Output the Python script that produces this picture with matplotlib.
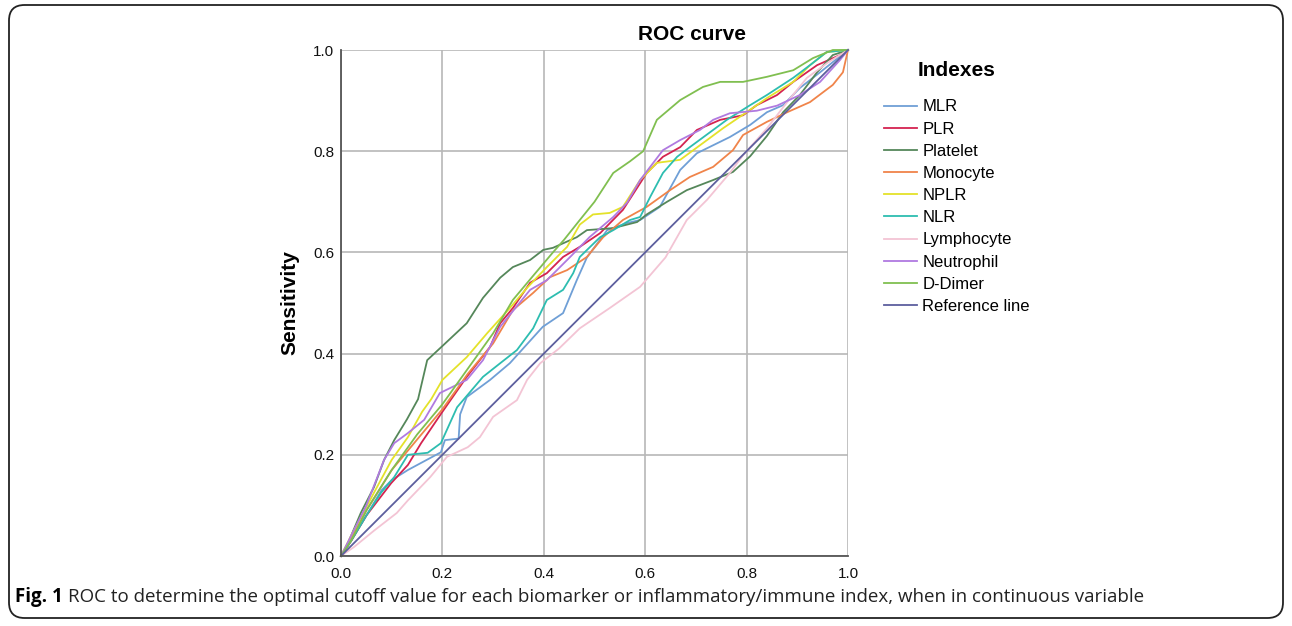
import matplotlib
matplotlib.use("Agg")
import matplotlib.pyplot as plt
from matplotlib.patches import FancyBboxPatch

plt.rcParams['font.family'] = ['Liberation Sans', 'DejaVu Sans']

# ---------------- data ----------------
labels = ["MLR", "PLR", "Platelet", "Monocyte", "NPLR", "NLR",
          "Lymphocyte", "Neutrophil", "D-Dimer", "Reference line"]
colors = ["#6f9fd6", "#d42350", "#55875a", "#f0844a", "#e4e22a", "#2dbdb0",
          "#f3c4d4", "#b07ae0", "#80bf50", "#5d5f9e"]

mlr_x = [0, 0.02, 0.05, 0.08, 0.10, 0.132, 0.197, 0.205, 0.232, 0.235, 0.248, 0.294, 0.333, 0.398, 0.438, 0.465, 0.485, 0.525, 0.564, 0.59, 0.629, 0.669, 0.702, 0.767, 0.807, 0.84, 0.872, 0.905, 0.945, 1.0]
mlr_y = [0, 0.03, 0.08, 0.13, 0.15, 0.17, 0.205, 0.229, 0.232, 0.28, 0.314, 0.348, 0.381, 0.453, 0.48, 0.545, 0.59, 0.644, 0.658, 0.664, 0.69, 0.763, 0.796, 0.828, 0.852, 0.877, 0.891, 0.925, 0.956, 1.0]

plr_x = [0, 0.02, 0.05, 0.099, 0.132, 0.158, 0.2, 0.248, 0.294, 0.314, 0.339, 0.373, 0.406, 0.438, 0.471, 0.511, 0.556, 0.603, 0.635, 0.669, 0.702, 0.748, 0.793, 0.82, 0.86, 0.892, 0.939, 0.984, 1.0]
plr_y = [0, 0.03, 0.08, 0.144, 0.18, 0.223, 0.285, 0.354, 0.413, 0.46, 0.49, 0.54, 0.559, 0.591, 0.611, 0.638, 0.684, 0.757, 0.789, 0.808, 0.842, 0.862, 0.871, 0.891, 0.911, 0.937, 0.97, 0.99, 1.0]

plt_x = [0, 0.014, 0.039, 0.065, 0.085, 0.105, 0.13, 0.152, 0.17, 0.2, 0.248, 0.28, 0.314, 0.339, 0.373, 0.399, 0.418, 0.465, 0.485, 0.537, 0.584, 0.603, 0.643, 0.682, 0.734, 0.773, 0.807, 0.84, 0.872, 0.905, 0.939, 0.97, 1.0]
plt_y = [0, 0.026, 0.085, 0.136, 0.19, 0.229, 0.27, 0.31, 0.387, 0.415, 0.46, 0.51, 0.55, 0.571, 0.585, 0.605, 0.609, 0.63, 0.644, 0.648, 0.66, 0.675, 0.70, 0.723, 0.743, 0.759, 0.79, 0.83, 0.877, 0.911, 0.956, 0.99, 1.0]

mono_x = [0, 0.02, 0.05, 0.10, 0.15, 0.20, 0.25, 0.30, 0.339, 0.379, 0.412, 0.446, 0.485, 0.517, 0.556, 0.603, 0.649, 0.688, 0.734, 0.773, 0.793, 0.84, 0.88, 0.925, 0.97, 0.99, 1.0]
mono_y = [0, 0.035, 0.09, 0.17, 0.23, 0.29, 0.36, 0.42, 0.486, 0.52, 0.551, 0.565, 0.591, 0.63, 0.664, 0.69, 0.723, 0.749, 0.769, 0.802, 0.832, 0.858, 0.877, 0.897, 0.931, 0.956, 1.0]

nplr_x = [0, 0.02, 0.065, 0.10, 0.132, 0.16, 0.178, 0.2, 0.248, 0.288, 0.333, 0.367, 0.406, 0.446, 0.471, 0.497, 0.53, 0.556, 0.59, 0.623, 0.669, 0.722, 0.753, 0.80, 0.84, 0.892, 0.925, 0.958, 1.0]
nplr_y = [0, 0.04, 0.125, 0.19, 0.235, 0.285, 0.31, 0.348, 0.393, 0.44, 0.49, 0.53, 0.571, 0.611, 0.655, 0.675, 0.678, 0.69, 0.743, 0.777, 0.783, 0.822, 0.845, 0.877, 0.905, 0.937, 0.97, 0.996, 1.0]

nlr_x = [0, 0.02, 0.05, 0.079, 0.105, 0.132, 0.171, 0.197, 0.229, 0.28, 0.314, 0.347, 0.379, 0.406, 0.438, 0.458, 0.471, 0.511, 0.537, 0.57, 0.59, 0.61, 0.635, 0.663, 0.688, 0.734, 0.761, 0.807, 0.84, 0.892, 0.925, 0.958, 1.0]
nlr_y = [0, 0.03, 0.08, 0.125, 0.156, 0.20, 0.204, 0.223, 0.294, 0.354, 0.381, 0.407, 0.45, 0.506, 0.526, 0.559, 0.591, 0.63, 0.644, 0.664, 0.67, 0.71, 0.757, 0.789, 0.808, 0.842, 0.862, 0.891, 0.911, 0.945, 0.97, 0.996, 1.0]

lym_x = [0, 0.026, 0.065, 0.11, 0.132, 0.176, 0.209, 0.25, 0.274, 0.30, 0.347, 0.367, 0.393, 0.43, 0.471, 0.53, 0.59, 0.64, 0.682, 0.722, 0.767, 0.793, 0.84, 0.88, 0.919, 0.96, 1.0]
lym_y = [0, 0.018, 0.05, 0.085, 0.11, 0.156, 0.196, 0.215, 0.235, 0.275, 0.308, 0.348, 0.381, 0.41, 0.45, 0.49, 0.532, 0.59, 0.664, 0.704, 0.757, 0.792, 0.845, 0.897, 0.945, 0.975, 1.0]

neu_x = [0, 0.02, 0.05, 0.085, 0.105, 0.132, 0.164, 0.195, 0.248, 0.28, 0.314, 0.373, 0.406, 0.452, 0.49, 0.537, 0.564, 0.59, 0.635, 0.669, 0.708, 0.734, 0.767, 0.82, 0.86, 0.905, 0.945, 0.984, 1.0]
neu_y = [0, 0.04, 0.10, 0.19, 0.223, 0.243, 0.269, 0.322, 0.348, 0.387, 0.453, 0.526, 0.545, 0.591, 0.63, 0.67, 0.698, 0.743, 0.802, 0.822, 0.842, 0.862, 0.875, 0.88, 0.89, 0.911, 0.937, 0.98, 1.0]

dd_x = [0, 0.02, 0.05, 0.10, 0.15, 0.20, 0.25, 0.30, 0.339, 0.38, 0.418, 0.44, 0.471, 0.50, 0.537, 0.57, 0.596, 0.623, 0.669, 0.714, 0.748, 0.793, 0.84, 0.892, 0.931, 0.97, 1.0]
dd_y = [0, 0.03, 0.09, 0.17, 0.24, 0.30, 0.37, 0.44, 0.506, 0.555, 0.60, 0.625, 0.664, 0.70, 0.757, 0.78, 0.80, 0.862, 0.901, 0.927, 0.937, 0.937, 0.947, 0.96, 0.984, 1.0, 1.0]

ref_x = [0, 1]
ref_y = [0, 1]

series = [(mlr_x, mlr_y), (plr_x, plr_y), (plt_x, plt_y), (mono_x, mono_y),
          (nplr_x, nplr_y), (nlr_x, nlr_y), (lym_x, lym_y), (neu_x, neu_y),
          (dd_x, dd_y), (ref_x, ref_y)]

ticks = [0.0, 0.2, 0.4, 0.6, 0.8, 1.0]
tick_labels = ["0.0", "0.2", "0.4", "0.6", "0.8", "1.0"]

# ---------------- figure ----------------
W, H = 1292, 626
fig = plt.figure(figsize=(W / 100, H / 100), dpi=100)
fig.patch.set_facecolor("white")

# rounded border
box = FancyBboxPatch((9 / W, 8 / H), (1283 - 9) / W, (621 - 8) / H,
                     boxstyle="round,pad=0,rounding_size=0.012",
                     transform=fig.transFigure, fill=False,
                     edgecolor="#222222", linewidth=1.3, mutation_aspect=W / H)
fig.patches.append(box)

ax = fig.add_axes([341 / W, 1 - 556 / H, (848 - 341) / W, (556 - 50) / H])
ax.set_xlim(0, 1)
ax.set_ylim(0, 1)
ax.set_xticks(ticks)
ax.set_xticklabels(tick_labels)
ax.set_yticks(ticks)
ax.set_yticklabels(tick_labels)
ax.tick_params(length=0, labelsize=11, colors="#111111")
ax.tick_params(axis="x", pad=8)
ax.tick_params(axis="y", pad=5)
ax.grid(True, color="#b8b8b8", linewidth=1.2)
ax.set_axisbelow(True)
for s in ["top", "right"]:
    ax.spines[s].set_visible(False)
for s in ["left", "bottom"]:
    ax.spines[s].set_color("#555555")
    ax.spines[s].set_linewidth(1.3)

handles = []
for (xs, ys), lab, c in zip(series, labels, colors):
    h, = ax.plot(xs, ys, color=c, linewidth=1.3, label=lab, clip_on=False)
    handles.append(h)

ax.set_ylabel("Sensitivity", fontsize=15, fontweight="bold", labelpad=10)

fig.text(692 / W, 1 - 35 / H, "ROC curve", fontsize=15, fontweight="bold",
         ha="center", va="center")

leg = fig.legend(handles=handles, labels=labels, loc="upper left",
                 bbox_to_anchor=(884 / W, 1 - 61 / H), frameon=False,
                 title="Indexes", fontsize=12, handlelength=2.0,
                 handletextpad=0.3, labelspacing=0.43, borderpad=0,
                 borderaxespad=0)
leg.get_title().set_fontsize(15)
leg.get_title().set_fontweight("bold")
leg._legend_box.sep = 14

# caption
fig.canvas.draw()
r = fig.canvas.get_renderer()
t1 = fig.text(15 / W, 1 - 597 / H, "Fig. 1", fontsize=13.5, fontweight="bold",
              family=["Open Sans", "DejaVu Sans"], va="center", ha="left")
bb = t1.get_window_extent(renderer=r)
fig.text((bb.x1 + 5) / W, 1 - 597 / H,
         "ROC to determine the optimal cutoff value for each biomarker or "
         "inflammatory/immune index, when in continuous variable",
         fontsize=13.5, family=["Open Sans", "DejaVu Sans"],
         va="center", ha="left", color="#222222")

fig.savefig("out.png", dpi=100)
